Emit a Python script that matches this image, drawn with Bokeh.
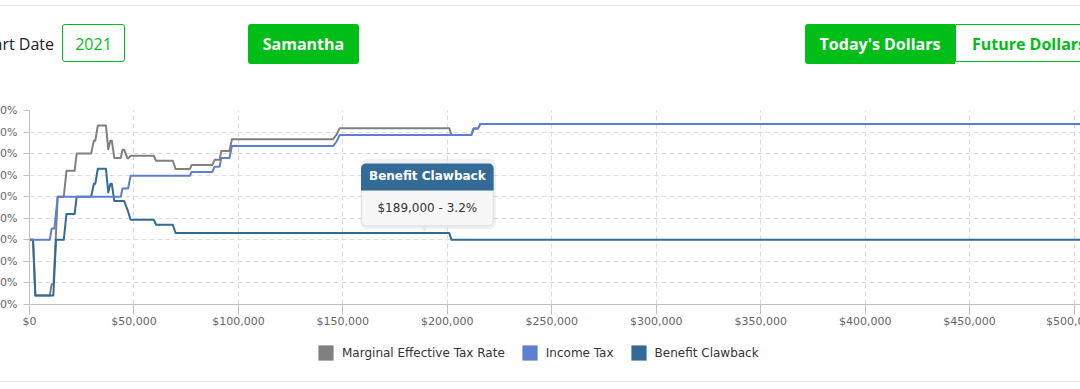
from bokeh.plotting import figure
from bokeh.models import (Range1d, FixedTicker, NumeralTickFormatter, PrintfTickFormatter,
                          Legend, LegendItem, Label, Div, ColumnDataSource)
from bokeh.layouts import column
from bokeh.embed import file_html
from bokeh.resources import INLINE

# ---------------- data ----------------
series_names = ["Marginal Effective Tax Rate", "Income Tax", "Benefit Clawback"]

met_x = [0, 1700, 2800, 9700, 10600, 11500, 13500, 16400, 17700, 21600, 22600,
         29500, 30800, 31500, 32700, 36600, 37700, 38700, 39400, 40600,
         43700, 44500, 45300, 46900, 47200, 48400, 59500, 60600, 68600, 69900,
         76800, 77600, 87500, 88600, 91000, 91800, 95700, 96900,
         145300, 146900, 148500, 200900, 202000, 211500, 212600, 214700, 215800, 520000]
met_y = [0, 0, -25.8, -25.8, -20.6, -20.6, 20, 20, 32, 32, 40,
         40, 46, 46, 53, 53, 42, 46, 46, 38,
         38, 41.8, 41.8, 37.8, 37.8, 39.0, 39.0, 36.7, 36.7, 32.9,
         32.9, 34.7, 34.7, 37.1, 37.1, 41.2, 41.2, 46.7,
         46.7, 48.7, 51.8, 51.8, 48.6, 48.6, 51.7, 51.7, 53.7, 53.7]

income_x = [0, 9700, 10600, 11900, 13500, 43700, 44500, 47200, 48400, 76800, 77600,
            87500, 88600, 91000, 91800, 95700, 96900, 145300, 146900, 148500,
            211500, 212600, 214700, 215800, 520000]
income_y = [0, 0, 5.2, 5.2, 20, 20, 23.8, 23.8, 29.7, 29.7, 31.5,
            31.5, 33.9, 33.9, 38, 38, 43.5, 43.5, 45.5, 48.6,
            48.6, 51.7, 51.7, 53.7, 53.7]

clawback_x = [0, 1700, 2800, 11400, 12700, 16400, 17700, 21600, 22600, 29500, 30800,
              31500, 32700, 36600, 37700, 38700, 39400, 40600, 45300, 46900, 48400,
              59500, 60600, 68600, 69900, 200900, 202000, 520000]
clawback_y = [0, 0, -25.8, -25.8, 0, 0, 12, 12, 20, 20, 26,
              26, 33, 33, 22, 26, 26, 18, 18, 14, 9.3,
              9.3, 7, 7, 3.2, 3.2, 0, 0]

x_ticks = [0, 50000, 100000, 150000, 200000, 250000, 300000, 350000, 400000, 450000, 500000]
y_ticks = [-30, -20, -10, 0, 10, 20, 30, 40, 50, 60]

tooltip_series = "Benefit Clawback"
tooltip_x = 189000
tooltip_y = 3.2
tooltip_text = "$189,000 - 3.2%"

control_labels = ["Start Date", "2021", "Samantha", "Today's Dollars", "Future Dollars"]

# ---------------- styles ----------------
C_MET = "#808080"
C_IT = "#5f7ecf"
C_CB = "#336b96"
GREEN = "#00be18"
FONT = "DejaVu Sans"

# ---------------- top controls ----------------
btn_font = "font-family:'Open Sans',sans-serif;font-size:16px;"
top_html = f"""
<div style="position:relative;width:1080px;height:80px;overflow:hidden;{btn_font}">
  <div style="position:absolute;left:0px;top:5px;width:1080px;height:1px;background:#e6eaf0;"></div>
  <div style="position:absolute;left:-246px;top:24px;width:300px;height:40px;line-height:40px;text-align:right;color:#222;">{control_labels[0]}</div>
  <div style="position:absolute;left:62px;top:24px;width:63px;height:38px;line-height:38px;border:1px solid {GREEN};border-radius:3px;text-align:center;color:{GREEN};">{control_labels[1]}</div>
  <div style="position:absolute;left:248px;top:24px;width:111px;height:40px;line-height:40px;background:{GREEN};border-radius:3px;text-align:center;color:#fff;font-weight:700;">{control_labels[2]}</div>
  <div style="position:absolute;left:805px;top:24px;width:150px;height:40px;line-height:40px;background:{GREEN};border-radius:3px 0 0 3px;text-align:center;color:#fff;font-weight:700;">{control_labels[3]}</div>
  <div style="position:absolute;left:955px;top:24px;width:148px;height:38px;line-height:38px;border:1px solid {GREEN};border-radius:0 3px 3px 0;text-align:center;color:{GREEN};font-weight:700;white-space:nowrap;">{control_labels[4]}</div>
</div>
"""
top = Div(text=top_html, width=1080, height=80, margin=0)

# ---------------- chart ----------------
p = figure(frame_width=1069, frame_height=194,
           x_range=Range1d(0, 505000), y_range=Range1d(-30, 60),
           output_backend="svg", toolbar_location=None,
           min_border_top=30, min_border_bottom=30, min_border_left=0, min_border_right=0,
           background_fill_color="white", border_fill_color="white",
           outline_line_color=None, margin=0,
           styles={"margin-left": "-14px"})

for ax in (p.xaxis[0], p.yaxis[0]):
    ax.axis_line_color = "#c0c0c0"
    ax.major_tick_line_color = "#c0c0c0"
    ax.minor_tick_line_color = None
    ax.major_tick_in = 0
    ax.major_label_text_font = FONT
    ax.major_label_text_font_size = "11px"
    ax.major_label_text_color = "#666666"

p.xaxis.ticker = FixedTicker(ticks=x_ticks)
p.xaxis.formatter = NumeralTickFormatter(format="$0,0")
p.xaxis.major_tick_out = 10
p.xaxis.major_label_standoff = 0

p.yaxis.ticker = FixedTicker(ticks=y_ticks)
p.yaxis.formatter = PrintfTickFormatter(format="%d%%")
p.yaxis.major_tick_out = 6
p.yaxis.major_label_standoff = 6

p.xgrid.ticker = FixedTicker(ticks=x_ticks)
p.ygrid.ticker = FixedTicker(ticks=y_ticks)
for g in (p.xgrid[0], p.ygrid[0]):
    g.grid_line_color = "#dcdcdc"
    g.grid_line_dash = "5 3"
    g.grid_line_width = 1

r_met = p.line(met_x, met_y, line_color=C_MET, line_width=2, line_join="round")
r_cb = p.line(clawback_x, clawback_y, line_color=C_CB, line_width=2, line_join="round")
r_it = p.line(income_x, income_y, line_color=C_IT, line_width=2, line_join="round")

# static tooltip anchored at the hovered point
shadow = Label(x=tooltip_x, y=tooltip_y, x_offset=4, y_offset=39, text=" ",
               text_align="center", text_baseline="middle", text_font_size="12px",
               background_fill_color="#000000", background_fill_alpha=0.06,
               padding=dict(left=66, right=66, top=28, bottom=28), border_radius=6)
head = Label(x=tooltip_x, y=tooltip_y, x_offset=3, y_offset=56, text=tooltip_series,
             text_align="center", text_baseline="middle",
             text_font=FONT, text_font_style="bold", text_font_size="12px", text_color="white",
             background_fill_color=C_CB,
             padding=dict(left=8, right=8, top=6, bottom=7),
             border_radius=dict(top_left=5, top_right=5, bottom_right=0, bottom_left=0))
body = Label(x=tooltip_x, y=tooltip_y, x_offset=3, y_offset=25, text=tooltip_text,
             text_align="center", text_baseline="middle",
             text_font=FONT, text_font_size="12px", text_color="#333333",
             background_fill_color="#f7f7f7", border_line_color="#dddddd",
             padding=dict(left=16, right=16, top=11, bottom=11),
             border_radius=dict(top_left=0, top_right=0, bottom_right=5, bottom_left=5))
pointer = Label(x=tooltip_x, y=tooltip_y, y_offset=5, text="\u25bc",
                text_align="center", text_baseline="middle",
                text_font=FONT, text_font_size="9px", text_color="#e8e8e8")
p.add_layout(shadow)
p.add_layout(pointer)
p.add_layout(body)
p.add_layout(head)

# ---------------- legend strip ----------------
lg = figure(frame_width=1080, frame_height=47, x_range=Range1d(0, 1), y_range=Range1d(0, 1),
            x_axis_type=None, y_axis_type=None, output_backend="svg", toolbar_location=None,
            min_border=0, outline_line_color=None, margin=0,
            background_fill_color="white", border_fill_color="white")
lg.xgrid.visible = False
lg.ygrid.visible = False
# legend-only swatch renderers: a single zero-area row each, so nothing shows in the strip
swatches = []
for c in (C_MET, C_IT, C_CB):
    src = ColumnDataSource(dict(left=[0], right=[0], top=[0], bottom=[0]))
    swatches.append(lg.quad(left="left", right="right", top="top", bottom="bottom", source=src,
                            fill_color=c, line_color=None))
legend = Legend(items=[LegendItem(label=n, renderers=[s]) for n, s in zip(series_names, swatches)],
                orientation="horizontal", location=(316, 19),
                glyph_width=19, glyph_height=19, label_height=19,
                label_standoff=7, spacing=15, padding=0, margin=0,
                border_line_color=None, background_fill_alpha=0,
                label_text_font=FONT, label_text_font_size="12px", label_text_color="#333333")
lg.add_layout(legend)

bottom = Div(text="", width=1080, height=1, margin=0,
             styles={"background-color": "#e6e6e6"})

layout = column(top, p, lg, bottom)
open("out.html", "w").write(file_html(layout, INLINE))
